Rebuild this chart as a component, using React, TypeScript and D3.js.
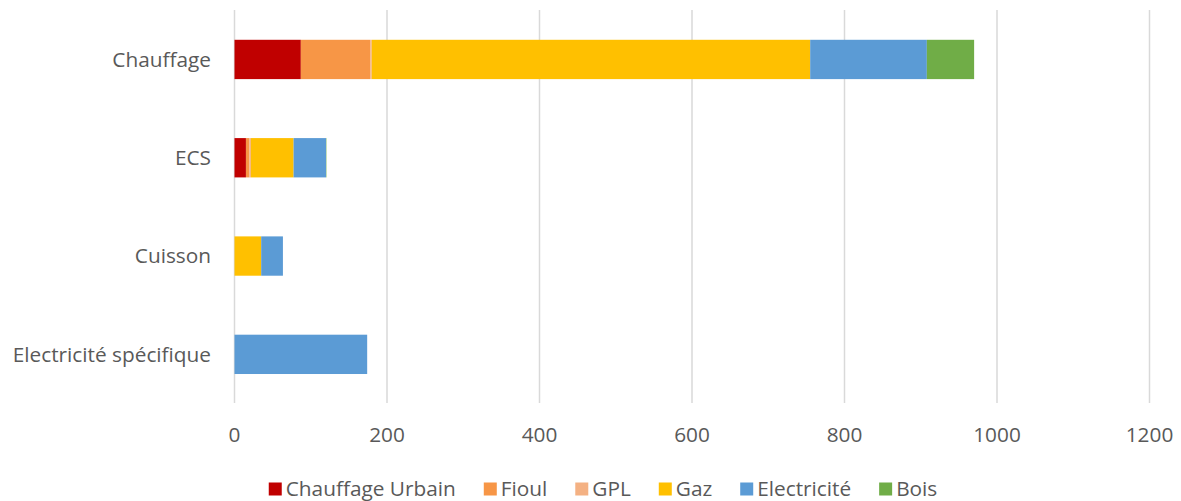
import React, { useEffect, useRef } from "react";
import * as d3 from "d3";

const categories = ["Chauffage", "ECS", "Cuisson", "Electricité spécifique"];
const series = ["Chauffage Urbain", "Fioul", "GPL", "Gaz", "Electricité", "Bois"];
const colors = ["#C00000", "#F79646", "#F4B183", "#FFC000", "#5B9BD5", "#70AD47"];

const chauffageUrbain = [87, 15, 0, 0];
const fioul = [91, 4.5, 0, 0];
const gpl = [2, 2, 0, 0];
const gaz = [575, 56, 35, 0];
const electricite = [153, 42.5, 28.5, 174];
const bois = [62, 0.5, 0, 0];

const xTicks = [0, 200, 400, 600, 800, 1000, 1200];

export default function App() {
  const svgRef = useRef<SVGSVGElement>(null);

  useEffect(() => {
    const width = 1181;
    const height = 501;
    const font = "'Open Sans', sans-serif";
    const fontSize = 20.8;
    const textColor = "#595959";

    const svg = d3.select(svgRef.current);
    svg.selectAll("*").remove();
    svg.attr("width", width).attr("height", height);

    const values = [chauffageUrbain, fioul, gpl, gaz, electricite, bois];
    const rows = categories.map((c, i) => {
      const row: any = { cat: c };
      series.forEach((s, j) => (row[s] = values[j][i]));
      return row;
    });
    const stacked = d3.stack().keys(series)(rows);

    const x = d3.scaleLinear().domain([0, 1200]).range([234.5, 1149.5]);
    const y = d3
      .scaleBand()
      .domain(categories)
      .range([10.3, 403.5])
      .paddingInner(0.6)
      .paddingOuter(0.3);

    // gridlines
    svg
      .append("g")
      .selectAll("line")
      .data(xTicks)
      .join("line")
      .attr("x1", (d) => x(d))
      .attr("x2", (d) => x(d))
      .attr("y1", 10)
      .attr("y2", 403)
      .attr("stroke", "#d9d9d9")
      .attr("stroke-width", 1.5);

    // bars
    svg
      .append("g")
      .selectAll("g")
      .data(stacked)
      .join("g")
      .attr("fill", (d, i) => colors[i])
      .selectAll("rect")
      .data((d) => d.filter((p) => p[1] - p[0] > 0))
      .join("rect")
      .attr("x", (d) => x(d[0]))
      .attr("width", (d) => x(d[1]) - x(d[0]))
      .attr("y", (d) => y((d as any).data.cat)!)
      .attr("height", y.bandwidth());

    // x tick labels
    svg
      .append("g")
      .selectAll("text")
      .data(xTicks)
      .join("text")
      .attr("x", (d) => x(d))
      .attr("y", 441.5)
      .attr("text-anchor", "middle")
      .attr("font-family", font)
      .attr("font-size", fontSize)
      .attr("fill", textColor)
      .text((d) => d);

    // category labels
    svg
      .append("g")
      .selectAll("text")
      .data(categories)
      .join("text")
      .attr("x", 211)
      .attr("y", (d) => y(d)! + y.bandwidth() / 2)
      .attr("dy", "0.35em")
      .attr("text-anchor", "end")
      .attr("font-family", font)
      .attr("font-size", fontSize)
      .attr("fill", textColor)
      .text((d) => d);

    // legend
    const legend = svg.append("g");
    const items = legend
      .selectAll("g")
      .data(series)
      .join("g");
    items
      .append("rect")
      .attr("width", 13)
      .attr("height", 13)
      .attr("y", 482.5)
      .attr("fill", (d, i) => colors[i]);
    const labels = items
      .append("text")
      .attr("x", 17)
      .attr("y", 496)
      .attr("font-family", font)
      .attr("font-size", fontSize)
      .attr("fill", textColor)
      .text((d) => d);

    let cx = 0;
    labels.each(function (d, i) {
      const w = (this as SVGTextElement).getComputedTextLength();
      d3.select((this as SVGTextElement).parentNode as SVGGElement).attr(
        "transform",
        `translate(${cx},0)`
      );
      cx += 17 + w + 28;
    });
    const total = cx - 28;
    legend.attr("transform", `translate(${603 - total / 2},0)`);
  }, []);

  return (
    <svg
      ref={svgRef}
      style={{ position: "absolute", left: 0, top: 0, background: "#fff" }}
    ></svg>
  );
}
